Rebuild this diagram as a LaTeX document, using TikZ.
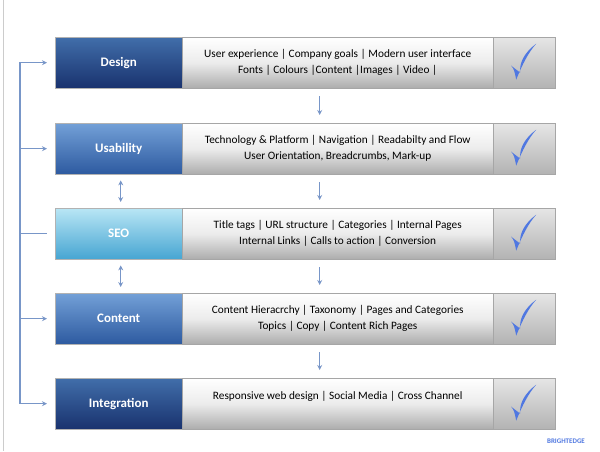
\documentclass[tikz,border=0pt]{standalone}
\usepackage{fontspec}
\setmainfont{Carlito}
\usetikzlibrary{arrows.meta,calc}
\definecolor{linkblue}{RGB}{120,150,200}
\definecolor{checkblue}{RGB}{80,120,225}
\definecolor{darktop}{RGB}{65,110,170}
\definecolor{darkbot}{RGB}{25,50,110}
\definecolor{midtop}{RGB}{115,160,215}
\definecolor{midbot}{RGB}{45,90,160}
\definecolor{seotop}{RGB}{185,230,245}
\definecolor{seobot}{RGB}{70,165,210}
\tikzset{
  stagebox/.style={minimum width=127, minimum height=51, anchor=north west, inner sep=0pt,
    draw=gray!60, text=white, font=\bfseries\fontsize{13}{14}\selectfont},
  infobox/.style={minimum width=311, minimum height=51, anchor=north west, inner sep=0pt,
    draw=gray!70, top color=white, bottom color=gray!65, middle color=gray!15,
    align=center, font=\fontsize{11.3}{16}\selectfont},
  tickbox/.style={minimum width=62, minimum height=51, anchor=north west, inner sep=0pt,
    draw=gray!70, top color=gray!20, bottom color=gray!60},
  link/.style={draw=linkblue, line width=1.2pt, -{Stealth[length=5pt,width=5pt]}},
  twoway/.style={draw=linkblue, line width=1.2pt, {Stealth[length=5pt,width=5pt]}-{Stealth[length=5pt,width=5pt]}}
}
\newcommand{\tickmark}[1]{%
  \fill[checkblue] ($(#1)+(-13,3)$) .. controls ($(#1)+(-10,7)$) .. ($(#1)+(-8,17)$)
    .. controls ($(#1)+(-2,2)$) and ($(#1)+(4,-10)$) .. ($(#1)+(12,-19)$)
    .. controls ($(#1)+(0,-10)$) and ($(#1)+(-5,0)$) .. ($(#1)+(-4,10)$)
    .. controls ($(#1)+(-8,6)$) .. cycle;}
\begin{document}
\begin{tikzpicture}[x=1pt, y=-1pt]
\useasboundingbox (0,0) rectangle (600,451);
\fill[white] (0,0) rectangle (600,451);
\draw[gray!40] (3,0) -- (3,451);
% rows
\foreach \name/\label/\y/\tc/\bc/\ta/\tb in {
  design/Design/37/darktop/darkbot/{User experience | Company goals | Modern user interface}/{Fonts | Colours |Content |Images | Video |},
  usab/Usability/123/midtop/midbot/{Technology \& Platform | Navigation | Readabilty and Flow}/{User Orientation, Breadcrumbs, Mark-up},
  seo/SEO/208/seotop/seobot/{Title tags | URL structure | Categories | Internal Pages}/{Internal Links | Calls to action | Conversion},
  cont/Content/293/midtop/midbot/{Content Hieracrchy | Taxonomy | Pages and Categories}/{Topics | Copy | Content Rich Pages},
  integ/Integration/378/darktop/darkbot/{Responsive web design | Social Media | Cross Channel}/{}}{
  \node[stagebox, top color=\tc, bottom color=\bc] (\name) at (55,\y) {\label};
  \node[infobox] (\name-info) at (182,\y) {\ta\\\tb};
  \node[tickbox] (\name-tick) at (493,\y) {};
  \tickmark{\name-tick.center}
}
% flow between rows
\draw[link] ($(design-info.south)+(-18,8)$) -- ($(usab-info.north)+(-18,-8)$);
\draw[link] ($(usab-info.south)+(-18,8)$) -- ($(seo-info.north)+(-18,-8)$);
\draw[link] ($(seo-info.south)+(-18,8)$) -- ($(cont-info.north)+(-18,-8)$);
\draw[link] ($(cont-info.south)+(-18,8)$) -- ($(integ-info.north)+(-18,-8)$);
\draw[twoway] ($(usab.south)+(2,6)$) -- ($(seo.north)+(2,-6)$);
\draw[twoway] ($(seo.south)+(2,6)$) -- ($(cont.north)+(2,-6)$);
% feedback bracket
\coordinate (rail-top) at (20,62);
\coordinate (rail-bot) at (20,404);
\draw[draw=linkblue, line width=1.2pt] (rail-top) -- (rail-bot);
\foreach \name in {design,usab,cont,integ}
  \draw[link] (rail-top |- \name.west) -- ($(\name.west)+(-8,0)$);
\draw[draw=linkblue, line width=1.2pt] (rail-top |- seo.west) -- ($(seo.west)+(-8,0)$);
\node[text=checkblue, font=\bfseries\fontsize{7}{8}\selectfont] (brand) at (566,441) {BRIGHTEDGE};
\end{tikzpicture}
\end{document}
